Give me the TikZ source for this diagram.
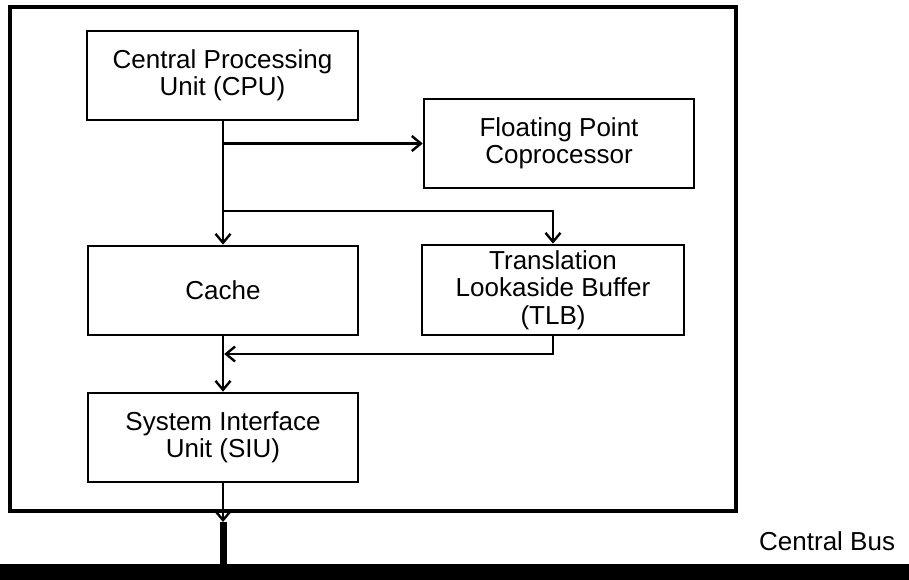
\documentclass[tikz,border=0pt]{standalone}
\usepackage{fontspec}
\setmainfont{Liberation Sans}
\usetikzlibrary{arrows.meta}
\begin{document}
\begin{tikzpicture}[x=1pt,y=-1pt,
  box/.style={draw,line width=2.6pt,inner sep=0pt,align=center,
    font=\fontsize{26}{27.5}\selectfont},
  conn/.style={line width=2.4pt,-{Straight Barb[length=9pt,width=15pt,line width=2.4pt]}},
  lbl/.style={font=\fontsize{26}{27.5}\selectfont,inner sep=0pt}]
\useasboundingbox (0,0) rectangle (909,580);
\draw[line width=3.2pt] (10,7) rectangle (736,511);
\node[box,minimum width=271pt,minimum height=89pt] (cpu) at (222.5,75.5) {Central Processing\\Unit (CPU)};
\node[box,minimum width=270pt,minimum height=89pt] (fpc) at (559,143.5) {Floating Point\\Coprocessor};
\node[box,minimum width=270pt,minimum height=89pt] (cache) at (223,290.5) {Cache};
\node[box,minimum width=262pt,minimum height=90pt] (tlb) at (553,290) {Translation\\Lookaside Buffer\\(TLB)};
\node[box,minimum width=270pt,minimum height=89pt] (siu) at (223,437.5) {System Interface\\Unit (SIU)};
\coordinate (b1) at (223,143.5);
\coordinate (b2) at (223,211);
\coordinate (b3) at (223,354);
\coordinate (bustop) at (223,522);
\coordinate (busjoin) at (223,565);
\draw[conn] (cpu.south -| b1) -- (cache.north -| b1);
\draw[conn] (b1) -- (fpc.west);
\draw[conn] (b2) -| (tlb.north);
\draw[conn] (tlb.south) |- ([xshift=1.2pt]b3);
\draw[conn] (cache.south -| b1) -- (siu.north -| b1);
\draw[conn] (siu.south -| b1) -- (bustop);
\draw[line width=7pt] (bustop) -- (busjoin);
\fill (0,564) rectangle (909,580);
\node[lbl,anchor=base west] (cbus) at (759,550) {Central Bus};
\end{tikzpicture}
\end{document}
